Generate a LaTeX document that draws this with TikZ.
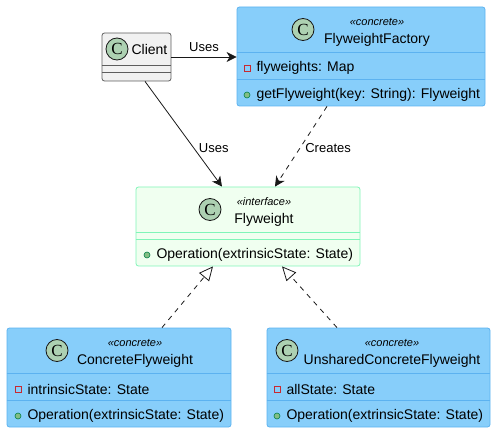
\documentclass[tikz,border=0pt]{standalone}
\usepackage{fontspec}
\setmainfont{Liberation Sans}
\newfontfamily\badgefont{Liberation Serif}
\usetikzlibrary{arrows.meta,positioning,calc}
\definecolor{fwBlue}{HTML}{87CEFA}
\definecolor{fwBlueLine}{HTML}{5CB2F0}
\definecolor{fwMint}{HTML}{F0FFF0}
\definecolor{fwMintLine}{HTML}{80F5B8}
\definecolor{fwGrey}{HTML}{F1F1F1}
\definecolor{fwEdge}{HTML}{181818}
\definecolor{fwBadge}{HTML}{ADD1B2}
\definecolor{fwRed}{HTML}{C82930}
\definecolor{fwGreen}{HTML}{84BE84}
\definecolor{fwGreenLine}{HTML}{038048}

\begin{document}
\begin{tikzpicture}[x=1pt,y=-1pt,font=\fontsize{14}{16}\selectfont,
    cls/.style={rounded corners=2.5pt,inner sep=0pt,line width=0.8pt},
    bluecls/.style={cls,fill=fwBlue,draw=fwBlueLine},
    mintcls/.style={cls,fill=fwMint,draw=fwMintLine},
    greycls/.style={cls,fill=fwGrey,draw=fwEdge!70},
    badge/.style={circle,draw=fwEdge,fill=fwBadge,minimum size=22pt,inner sep=0pt,
                  line width=0.8pt,font=\badgefont\fontsize{17}{17}\selectfont},
    stereo/.style={inner sep=0pt,font=\itshape\fontsize{11}{12}\selectfont},
    member/.style={anchor=west,inner sep=0pt},
    priv/.style={draw=fwRed,minimum size=6pt,inner sep=0pt,line width=0.8pt},
    pub/.style={circle,draw=fwGreenLine,fill=fwGreen,minimum size=6pt,inner sep=0pt,line width=0.6pt},
    rel/.style={-{Stealth[length=10pt,width=10pt,inset=3pt]},line width=0.8pt,draw=fwEdge},
    realize/.style={-{Triangle[open,length=14pt,width=13pt]},dash pattern=on 5pt off 5pt,
                    line width=0.8pt,draw=fwEdge},
    lbl/.style={inner sep=0pt,font=\fontsize{13}{15}\selectfont}]
  \useasboundingbox (0,0) rectangle (496,433);

  % class boxes
  \node[greycls,minimum width=69pt,minimum height=48pt] (client) at (136.5,57) {};
  \node[bluecls,minimum width=248pt,minimum height=99pt] (factory) at (361,56.5) {};
  \node[mintcls,minimum width=224pt,minimum height=79pt] (flyweight) at (248,226.5) {};
  \node[bluecls,minimum width=224pt,minimum height=99pt] (concrete) at (119,377.5) {};
  \node[bluecls,minimum width=223pt,minimum height=99pt] (unshared) at (378.5,377.5) {};

  % compartments
  \draw[fwEdge!70,line width=0.6pt] (client.west |- 0,65) -- (client.east |- 0,65)
                                    (client.west |- 0,72) -- (client.east |- 0,72);
  \draw[fwBlueLine,line width=0.6pt] (factory.west |- 0,52) -- (factory.east |- 0,52)
                                     (factory.west |- 0,79) -- (factory.east |- 0,79);
  \draw[fwMintLine,line width=0.6pt] (flyweight.west |- 0,232) -- (flyweight.east |- 0,232)
                                     (flyweight.west |- 0,239) -- (flyweight.east |- 0,239);
  \draw[fwBlueLine,line width=0.6pt] (concrete.west |- 0,373) -- (concrete.east |- 0,373)
                                     (concrete.west |- 0,400) -- (concrete.east |- 0,400)
                                     (unshared.west |- 0,373) -- (unshared.east |- 0,373)
                                     (unshared.west |- 0,400) -- (unshared.east |- 0,400);

  % Client
  \node[badge] (clientC) at (117,49) {C};
  \node[inner sep=0pt,right=3pt of clientC] (clientName) {Client};

  % FlyweightFactory
  \node[badge] (factoryC) at (303,29.5) {C};
  \node[stereo] (factoryStereo) at (377,22) {«concrete»};
  \node[inner sep=0pt] (factoryName) at (377,40) {FlyweightFactory};
  \node[priv] (factoryAttrMark) at (247,68) {};
  \node[member,right=6pt of factoryAttrMark] (factoryAttr) {flyweights: Map};
  \node[pub] (factoryOpMark) at (247,95) {};
  \node[member,right=6pt of factoryOpMark] (factoryOp) {getFlyweight(key: String): Flyweight};

  % Flyweight
  \node[badge] (flyweightC) at (210,209.5) {C};
  \node[stereo] (flyweightStereo) at (264,202) {«interface»};
  \node[inner sep=0pt] (flyweightName) at (264,220) {Flyweight};
  \node[pub] (flyweightOpMark) at (147,255) {};
  \node[member,right=6pt of flyweightOpMark] (flyweightOp) {Operation(extrinsicState: State)};

  % ConcreteFlyweight
  \node[badge] (concreteC) at (57,350.5) {C};
  \node[stereo] (concreteStereo) at (135,343) {«concrete»};
  \node[inner sep=0pt] (concreteName) at (135,361) {ConcreteFlyweight};
  \node[priv] (concreteAttrMark) at (18,389) {};
  \node[member,right=6pt of concreteAttrMark] (concreteAttr) {intrinsicState: State};
  \node[pub] (concreteOpMark) at (18,416) {};
  \node[member,right=6pt of concreteOpMark] (concreteOp) {Operation(extrinsicState: State)};

  % UnsharedConcreteFlyweight
  \node[badge] (unsharedC) at (287,350.5) {C};
  \node[stereo] (unsharedStereo) at (392,343) {«concrete»};
  \node[inner sep=0pt] (unsharedName) at (392,361) {UnsharedConcreteFlyweight};
  \node[priv] (unsharedAttrMark) at (277,389) {};
  \node[member,right=6pt of unsharedAttrMark] (unsharedAttr) {allState: State};
  \node[pub] (unsharedOpMark) at (277,416) {};
  \node[member,right=6pt of unsharedOpMark] (unsharedOp) {Operation(extrinsicState: State)};

  % relations
  \draw[rel] (client.east) -- node[lbl,above=5pt] {Uses} (client.east -| factory.west);
  \draw[rel] ([xshift=8.5pt]client.south) -- node[lbl,pos=0.63,right=5pt] {Uses}
             ([xshift=-26pt]flyweight.north);
  \draw[rel,dash pattern=on 5pt off 5pt] ([xshift=-34pt]factory.south)
             -- node[lbl,pos=0.52,right=5pt] {Creates} ([xshift=27pt]flyweight.north);
  \draw[realize] ([xshift=43pt]concrete.north) -- ([xshift=-35pt]flyweight.south);
  \draw[realize] ([xshift=-41.5pt]unshared.north) -- ([xshift=34pt]flyweight.south);
\end{tikzpicture}
\end{document}
